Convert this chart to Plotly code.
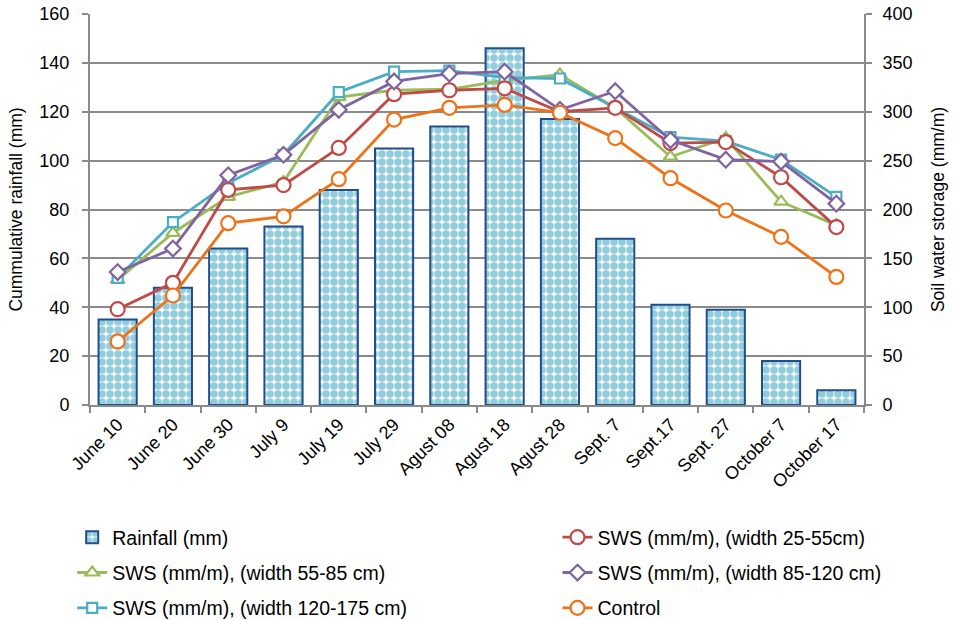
import plotly.graph_objects as go

categories = ["June 10", "June 20", "June 30", "July 9", "July 19", "July 29",
              "Agust 08", "Agust 18", "Agust 28", "Sept. 7", "Sept.17",
              "Sept. 27", "October 7", "October 17"]
rainfall = [35, 48, 64, 73, 88, 105, 114, 146, 117, 68, 41, 39, 18, 6]
sws_25_55 = [98, 125, 220, 225, 263, 318, 322, 324, 300, 304, 268, 269, 233, 182]
sws_55_85 = [128, 176, 213, 228, 315, 322, 323, 332, 338, 304, 254, 273, 208, 184]
sws_85_120 = [136, 160, 235, 256, 302, 331, 339, 341, 302, 321, 271, 251, 249, 206]
sws_120_175 = [130, 187, 227, 256, 320, 341, 342, 335, 334, 304, 274, 270, 251, 213]
control = [65, 112, 186, 193, 231, 292, 304, 307, 299, 273, 232, 199, 172, 131]

FONT = "Liberation Sans, Arial, sans-serif"
GRID = "#8a8a8a"

fig = go.Figure()

fig.add_trace(go.Bar(
    x=categories, y=rainfall, name="Rainfall (mm)",
    marker=dict(color="#92CDDC",
                line=dict(color="#1F4E8A", width=2),
                pattern=dict(shape=".", fgcolor="#92CDDD", bgcolor="white",
                             size=8, solidity=0.7, fillmode="replace")),
    legend="legend", legendgroup="g1", yaxis="y",
))

def line_trace(vals, name, color, symbol, size, legend, group):
    return go.Scatter(
        x=categories, y=vals, name=name, mode="lines+markers", yaxis="y2",
        line=dict(color=color, width=2.8),
        marker=dict(symbol=symbol, size=size, color="white",
                    line=dict(color=color, width=2.2)),
        legend=legend, legendgroup=group,
    )

fig.add_trace(line_trace(sws_55_85, "SWS (mm/m), (width 55-85 cm)", "#9BBB59",
                         "triangle-up", 12, "legend", "g2"))
fig.add_trace(line_trace(sws_120_175, "SWS (mm/m), (width 120-175 cm)", "#4BACC6",
                         "square", 10, "legend", "g3"))
fig.add_trace(line_trace(sws_25_55, "SWS (mm/m), (width 25-55cm)", "#BE4B48",
                         "circle", 14, "legend2", "h1"))
fig.add_trace(line_trace(sws_85_120, "SWS (mm/m), (width 85-120 cm)", "#8064A2",
                         "diamond", 12, "legend2", "h2"))
fig.add_trace(line_trace(control, "Control", "#EE7318",
                         "circle", 14, "legend2", "h3"))

legend_common = dict(orientation="v", yanchor="top", xanchor="left",
                     font=dict(family=FONT, size=19.5, color="black"),
                     tracegroupgap=7, bgcolor="rgba(0,0,0,0)")

fig.update_layout(
    width=957, height=620,
    margin=dict(l=90, r=93, t=14, b=215, autoexpand=False),
    paper_bgcolor="white", plot_bgcolor="white",
    font=dict(family=FONT, size=16, color="black"),
    bargap=0.31,
    showlegend=True,
    legend=dict(x=-0.023, y=-0.289, **legend_common),
    legend2=dict(x=0.604, y=-0.289, **legend_common),
    xaxis=dict(type="category", range=[-0.5, 13.5], tickangle=-45,
               tickson="boundaries",
               ticks="outside", ticklen=6, tickcolor=GRID, tickwidth=2,
               showline=True, linecolor=GRID, linewidth=2, showgrid=False,
               automargin=False, ticklabeloverflow="allow",
               tickfont=dict(family=FONT, size=18, color="black")),
    yaxis=dict(range=[0, 160], dtick=20, showgrid=True, gridcolor=GRID,
               gridwidth=2, showline=True, linecolor=GRID, linewidth=2,
               ticks="outside", ticklen=6, tickcolor=GRID, tickwidth=2,
               ticklabelstandoff=9, ticklabeloverflow="allow",
               zeroline=False, automargin=False,
               title=dict(text="Cummulative rainfall (mm)", standoff=12,
                          font=dict(family=FONT, size=17.5, color="black")),
               tickfont=dict(family=FONT, size=18, color="black")),
    yaxis2=dict(range=[0, 400], dtick=50, overlaying="y", side="right",
                showgrid=False, showline=True, linecolor=GRID, linewidth=2,
                ticks="outside", ticklen=6, tickcolor=GRID, tickwidth=2,
                ticklabelstandoff=7, ticklabeloverflow="allow",
                zeroline=False, automargin=False,
                title=dict(text="Soil water storage (mm/m)", standoff=20,
                           font=dict(family=FONT, size=17.5, color="black")),
                tickfont=dict(family=FONT, size=18, color="black")),
)

# remove the default 8px page margin so the 957x620 figure fills the window
fig.write_html("out.html", config={"displayModeBar": False},
               post_script="document.body.style.margin='0';")
